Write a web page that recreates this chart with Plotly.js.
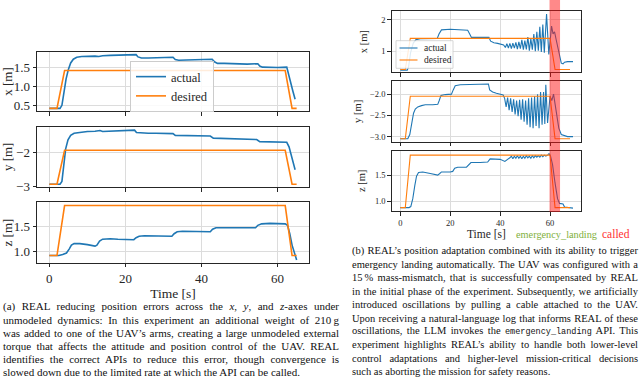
<!DOCTYPE html>
<html><head><meta charset="utf-8">
<script src="https://cdn.plot.ly/plotly-3.0.1.min.js"></script>
<style>html,body{margin:0;padding:0;background:#fff;}#chart{width:640px;height:382px;}</style>
</head><body><div id="chart"></div>
<script>
// ---------- data: left figure (a) ----------
const aXActT = [0, 2.8, 3.3, 3.8, 4.4, 5.0, 5.6, 6.3, 7.2, 8.5, 10, 12, 13, 14, 16, 18, 20, 22, 22.8, 23.3, 24.2, 26, 28, 30, 32.5, 33.1, 34, 36, 38, 40, 42.8, 43.4, 44.2, 46, 48, 50, 52, 54.8, 55.3, 56, 58, 60, 62.4, 63.0, 63.5, 64.0, 64.6];
const aXActV = [0.42, 0.42, 0.50, 0.85, 1.20, 1.45, 1.62, 1.72, 1.77, 1.79, 1.80, 1.80, 1.79, 1.81, 1.82, 1.82, 1.83, 1.84, 1.84, 1.78, 1.75, 1.75, 1.76, 1.77, 1.77, 1.71, 1.69, 1.70, 1.71, 1.71, 1.72, 1.65, 1.61, 1.61, 1.60, 1.60, 1.59, 1.60, 1.54, 1.51, 1.50, 1.50, 1.51, 1.30, 1.10, 0.88, 0.66];
const aXDesT = [0, 2, 4, 62, 63.8, 65];
const aXDesV = [0.42, 0.42, 1.42, 1.42, 0.42, 0.42];

const aYActT = [0, 2.8, 3.3, 3.8, 4.3, 4.9, 5.6, 6.5, 8, 10, 12, 13.3, 14, 16, 18, 20, 22.4, 22.9, 24, 26, 28, 30, 32.5, 33.1, 35, 38, 40, 42.3, 43.1, 45, 48, 50, 52, 54.5, 55.3, 57, 60, 62.4, 63.0, 63.5, 64.0, 64.6];
const aYActV = [-2.93, -2.93, -2.85, -2.40, -1.90, -1.65, -1.52, -1.46, -1.43, -1.41, -1.40, -1.38, -1.41, -1.40, -1.39, -1.37, -1.37, -1.44, -1.45, -1.46, -1.46, -1.47, -1.47, -1.52, -1.52, -1.53, -1.53, -1.54, -1.60, -1.61, -1.62, -1.62, -1.63, -1.64, -1.70, -1.70, -1.71, -1.72, -1.85, -2.05, -2.28, -2.51];
const aYDesT = [0, 2, 4, 62, 63.8, 65];
const aYDesV = [-2.93, -2.93, -1.95, -1.95, -2.93, -2.93];

const aZActT = [0, 2.5, 3.5, 4.5, 5.2, 5.8, 6.5, 8, 10, 12, 12.5, 13.2, 14, 16, 18, 20, 22.2, 22.8, 23.6, 25, 28, 30, 32.2, 32.8, 33.6, 35, 38, 40, 42.3, 42.9, 43.8, 46, 50, 54.2, 54.8, 55.8, 58, 60, 62, 62.6, 63.2, 63.8, 64.4, 65];
const aZActV = [0.91, 0.91, 0.93, 0.96, 1.04, 1.12, 1.15, 1.15, 1.13, 1.10, 1.12, 1.20, 1.24, 1.25, 1.24, 1.24, 1.23, 1.27, 1.30, 1.31, 1.31, 1.30, 1.30, 1.35, 1.39, 1.40, 1.39, 1.39, 1.39, 1.44, 1.47, 1.47, 1.47, 1.47, 1.52, 1.55, 1.56, 1.56, 1.55, 1.52, 1.35, 1.12, 0.95, 0.82];
const aZDesT = [0, 2, 4, 62, 63.8, 65];
const aZDesV = [0.91, 0.91, 1.92, 1.92, 0.91, 0.91];

// ---------- data: right figure (b) ----------
const bXActT = [0, 2.8, 3.3, 4.1, 5.2, 6.3, 8, 12, 14.8, 15.5, 16.5, 20, 24, 27, 27.8, 28.5, 32, 35.5, 36.2, 37.5, 39, 40.2, 41.4, 42.1, 42.7, 43.3, 43.9, 44.5, 45.1, 45.7, 46.3, 46.9, 47.5, 48.1, 48.7, 49.3, 49.9, 50.5, 51.1, 51.7, 52.3, 52.9, 53.5, 54.1, 54.7, 55.3, 55.9, 56.5, 57.1, 57.7, 58.6, 59.5, 60.6, 61.2, 61.8, 62.5, 63.5, 64.5, 65.2, 65.8, 67, 69.2];
const bXActV = [0.40, 0.40, 0.50, 0.95, 1.26, 1.37, 1.40, 1.40, 1.41, 1.55, 1.68, 1.70, 1.68, 1.67, 1.55, 1.44, 1.44, 1.44, 1.32, 1.27, 1.25, 1.22, 1.20, 1.12, 1.24, 1.10, 1.25, 1.08, 1.26, 1.10, 1.28, 1.07, 1.30, 1.08, 1.36, 1.05, 1.34, 1.06, 1.45, 1.02, 1.40, 1.05, 1.55, 1.00, 1.62, 1.02, 1.78, 0.98, 1.85, 0.95, 2.18, 0.90, 1.80, 1.55, 1.62, 1.35, 0.95, 0.62, 0.60, 0.65, 0.67, 0.67];
const bXDesT = [0, 2, 4, 60, 62, 68];
const bXDesV = [0.42, 0.42, 1.41, 1.41, 0.42, 0.42];

const bYActT = [0, 3.0, 3.8, 4.5, 5.3, 6.0, 7.0, 8.5, 10, 13, 15, 15.6, 16.3, 18, 20.5, 21.2, 22, 24, 27, 30, 33, 35.3, 35.8, 37, 38.5, 40.5, 41.2, 41.8, 42.4, 43.0, 43.6, 44.2, 44.8, 45.4, 46.0, 46.6, 47.2, 47.8, 48.4, 49.0, 49.6, 50.2, 50.8, 51.4, 52.0, 52.6, 53.2, 53.8, 54.4, 55.0, 55.6, 56.2, 56.8, 57.4, 57.9, 58.3, 59.0, 60.0, 60.7, 61.4, 62.3, 63.5, 64.5, 65.5, 67, 69.2];
const bYActV = [-3.05, -3.05, -2.95, -2.70, -2.45, -2.35, -2.30, -2.27, -2.25, -2.25, -2.24, -2.15, -2.03, -2.01, -2.00, -1.90, -1.80, -1.78, -1.77, -1.76, -1.75, -1.76, -1.90, -1.95, -1.98, -2.02, -2.02, -2.10, -2.30, -2.08, -2.38, -2.10, -2.42, -2.12, -2.48, -2.15, -2.52, -2.13, -2.60, -2.12, -2.65, -2.15, -2.72, -2.10, -2.78, -2.08, -2.80, -2.05, -2.75, -2.00, -2.80, -1.95, -2.72, -1.95, -2.70, -1.78, -2.68, -2.05, -2.15, -2.00, -2.30, -2.80, -2.95, -2.97, -3.00, -3.00];
const bYDesT = [0, 2, 4, 60, 62, 68];
const bYDesV = [-3.05, -3.05, -2.05, -2.05, -3.05, -3.05];

const bZActT = [0, 3.5, 4.2, 5.0, 5.8, 6.5, 7.3, 9, 12, 15, 15.8, 16.5, 20, 21, 21.8, 23, 26.5, 27.3, 28.3, 32, 35, 36, 40, 41.9, 43.2, 43.9, 44.5, 45.1, 45.7, 46.3, 46.9, 47.5, 48.1, 48.7, 49.3, 49.9, 50.5, 51.1, 51.7, 52.3, 52.9, 53.5, 54.1, 54.7, 55.3, 55.9, 56.5, 57.1, 57.7, 58.3, 59.0, 59.6, 60.2, 61.0, 62.0, 63.0, 63.8, 64.5, 65.2, 65.8, 67, 69.2];
const bZActV = [0.88, 0.88, 0.90, 1.05, 1.30, 1.48, 1.55, 1.56, 1.53, 1.50, 1.53, 1.56, 1.56, 1.57, 1.63, 1.65, 1.65, 1.70, 1.74, 1.74, 1.75, 1.81, 1.80, 1.76, 1.80, 1.83, 1.86, 1.81, 1.86, 1.82, 1.87, 1.82, 1.86, 1.81, 1.86, 1.82, 1.87, 1.83, 1.86, 1.82, 1.87, 1.83, 1.87, 1.84, 1.87, 1.84, 1.88, 1.85, 1.88, 1.86, 1.88, 1.91, 1.86, 1.70, 1.35, 1.05, 0.96, 0.95, 0.95, 0.89, 0.88, 0.87];
const bZDesT = [0, 2, 4, 60, 62, 68];
const bZDesV = [0.88, 0.88, 1.88, 1.88, 0.88, 0.88];

const emergencyWindow = [59.8, 64.0];
const timeTicks = [0, 20, 40, 60];
const seriesNames = ['actual', 'desired'];

const captionA = [
  '(a) REAL reducing position errors across the <i>x</i>, <i>y</i>, and <i>z</i>-axes under',
  'unmodeled dynamics: In this experiment an additional weight of 210\u2009g',
  'was added to one of the UAV\u2019s arms, creating a large unmodeled external',
  'torque that affects the attitude and position control of the UAV. REAL',
  'identifies the correct APIs to reduce this error, though convergence is',
  'slowed down due to the limited rate at which the API can be called.'
];
const captionB = [
  '(b) REAL\u2019s position adaptation combined with its ability to trigger',
  'emergency landing automatically. The UAV was configured with a',
  '15\u2009% mass-mismatch, that is successfully compensated by REAL',
  'in the initial phase of the experiment. Subsequently, we artificially',
  'introduced oscillations by pulling a cable attached to the UAV.',
  'Upon receiving a natural-language log that informs REAL of these',
  'oscillations, the LLM invokes the <span style="font-family:\'Liberation Mono\',monospace;font-size:8.5px">emergency_landing</span> API. This',
  'experiment highlights REAL\u2019s ability to handle both lower-level',
  'control adaptations and higher-level mission-critical decisions',
  'such as aborting the mission for safety reasons.'
];

// ---------- styling ----------
const F = 'Liberation Serif, Times New Roman, serif';
const BLUE = '#1f77b4', ORANGE = '#ff7f0e', INK = '#262626';
const W = 640, H = 382;
const px = v => v / W, py = v => 1 - v / H;

function ax(o, fs) {
  return Object.assign({
    showline: true, mirror: true, linecolor: INK, linewidth: 1,
    ticks: 'outside', ticklen: 3.5, tickwidth: 1, tickcolor: INK,
    showgrid: true, gridcolor: '#dcdcdc', gridwidth: 1, zeroline: false,
    tickfont: {family: F, size: fs, color: INK}, automargin: false
  }, o);
}

function pair(tA, vA, tD, vD, xa, ya, lw, show) {
  return [
    {x: tA, y: vA, type: 'scatter', mode: 'lines', name: seriesNames[0], xaxis: xa, yaxis: ya,
     line: {color: BLUE, width: lw}, showlegend: show},
    {x: tD, y: vD, type: 'scatter', mode: 'lines', name: seriesNames[1], xaxis: xa, yaxis: ya,
     line: {color: ORANGE, width: lw}, showlegend: show}
  ];
}

const data = [].concat(
  pair(aXActT, aXActV, aXDesT, aXDesV, 'x', 'y', 1.6, true),
  pair(aYActT, aYActV, aYDesT, aYDesV, 'x2', 'y2', 1.6, false),
  pair(aZActT, aZActV, aZDesT, aZDesV, 'x3', 'y3', 1.6, false),
  pair(bXActT, bXActV, bXDesT, bXDesV, 'x4', 'y4', 1.1, false),
  pair(bYActT, bYActV, bYDesT, bYDesV, 'x5', 'y5', 1.1, false),
  pair(bZActT, bZActV, bZDesT, bZDesV, 'x6', 'y6', 1.1, false)
);

const LX = [px(37), px(309)], RX = [px(391.7), px(581)];
const FA = 13, FB = 8.5;
const layout = {
  width: W, height: H, margin: {l: 0, r: 0, t: 0, b: 0},
  paper_bgcolor: '#fff', plot_bgcolor: '#fff', font: {family: F, color: INK},
  xaxis:  ax({domain: LX, anchor: 'y',  range: [-3.25, 68.25], tickvals: timeTicks, showticklabels: false}, FA),
  xaxis2: ax({domain: LX, anchor: 'y2', range: [-3.25, 68.25], tickvals: timeTicks, showticklabels: false}, FA),
  xaxis3: ax({domain: LX, anchor: 'y3', range: [-3.25, 68.25], tickvals: timeTicks,
              title: {text: 'Time [s]', font: {family: F, size: 13.5, color: INK}, standoff: 0}}, FA),
  yaxis:  ax({domain: [py(111), py(52)], anchor: 'x', range: [0.35, 1.91], tickvals: [0.5, 1.0, 1.5], tickformat: '.1f',
              title: {text: 'x [m]', font: {family: F, size: 13, color: INK}, standoff: 6}}, FA),
  yaxis2: ax({domain: [py(187), py(126.7)], anchor: 'x2', range: [-3.01, -1.27], tickvals: [-3, -2],
              title: {text: 'y [m]', font: {family: F, size: 13, color: INK}, standoff: 6}}, FA),
  yaxis3: ax({domain: [py(262.7), py(202.3)], anchor: 'x3', range: [0.765, 1.985], tickvals: [1.0, 1.5], tickformat: '.1f',
              title: {text: 'z [m]', font: {family: F, size: 13, color: INK}, standoff: 6}}, FA),

  xaxis4: ax({domain: RX, anchor: 'y4', range: [-3.45, 72.4], tickvals: timeTicks, showticklabels: false}, FB),
  xaxis5: ax({domain: RX, anchor: 'y5', range: [-3.45, 72.4], tickvals: timeTicks, showticklabels: false}, FB),
  xaxis6: ax({domain: RX, anchor: 'y6', range: [-3.45, 72.4], tickvals: timeTicks,
              title: {text: 'Time [s]', font: {family: F, size: 11.5, color: INK}, standoff: 0}}, FB),
  yaxis4: ax({domain: [py(72.3), py(11)], anchor: 'x4', range: [0.33, 2.28], tickvals: [1, 2],
              title: {text: 'x [m]', font: {family: F, size: 10.5, color: INK}, standoff: 11}}, FB),
  yaxis5: ax({domain: [py(141.7), py(81)], anchor: 'x5', range: [-3.12, -1.69], tickvals: [-3.0, -2.5, -2.0], tickformat: '.1f',
              title: {text: 'y [m]', font: {family: F, size: 10.5, color: INK}, standoff: 6}}, FB),
  yaxis6: ax({domain: [py(211), py(150.7)], anchor: 'x6', range: [0.815, 1.965], tickvals: [1.0, 1.5], tickformat: '.1f',
              title: {text: 'z [m]', font: {family: F, size: 10.5, color: INK}, standoff: 7}}, FB),

  showlegend: true,
  legend: {x: px(130), y: py(61), xanchor: 'left', yanchor: 'top', bgcolor: 'rgba(255,255,255,0.85)',
           bordercolor: '#cccccc', borderwidth: 1, font: {family: F, size: 12.5, color: INK}, tracegroupgap: 0},

  shapes: [
    {type: 'rect', xref: 'x6', yref: 'paper', x0: emergencyWindow[0], x1: emergencyWindow[1],
     y0: py(212), y1: 1, fillcolor: 'rgba(255,20,20,0.5)', line: {width: 0}, layer: 'above'},
    // legend of panel (b): frame and line samples
    {type: 'rect', xref: 'paper', yref: 'paper', x0: px(396), x1: px(453), y0: py(68.3), y1: py(40.7),
     fillcolor: 'rgba(255,255,255,0.85)', line: {color: '#cccccc', width: 0.8}, layer: 'above'},
    {type: 'line', xref: 'paper', yref: 'paper', x0: px(399.5), x1: px(417.5), y0: py(48), y1: py(48),
     line: {color: BLUE, width: 1.1}, layer: 'above'},
    {type: 'line', xref: 'paper', yref: 'paper', x0: px(399.5), x1: px(417.5), y0: py(60), y1: py(60),
     line: {color: ORANGE, width: 1.1}, layer: 'above'}
  ],
  annotations: [
    {xref: 'paper', yref: 'paper', x: px(422), y: py(48), xanchor: 'left', yanchor: 'middle',
     text: seriesNames[0], showarrow: false, font: {family: F, size: 9.5, color: INK}},
    {xref: 'paper', yref: 'paper', x: px(422), y: py(60), xanchor: 'left', yanchor: 'middle',
     text: seriesNames[1], showarrow: false, font: {family: F, size: 9.5, color: INK}},
    {xref: 'paper', yref: 'paper', x: px(514), y: py(234), xanchor: 'left', yanchor: 'middle',
     text: 'emergency_landing', showarrow: false, font: {family: F, size: 10.3, color: '#7fb03c'}},
    {xref: 'paper', yref: 'paper', x: px(632), y: py(234), xanchor: 'right', yanchor: 'middle',
     text: 'called', showarrow: false, font: {family: F, size: 11.5, color: '#ff3030'}}
  ]
};

const justify = [];
captionA.forEach((s, i) => {
  justify.push({idx: layout.annotations.length, width: 336, last: i === captionA.length - 1});
  layout.annotations.push({
    xref: 'paper', yref: 'paper', x: px(1), y: py(306.5 + i * 13.0), xanchor: 'left', yanchor: 'middle', align: 'left',
    text: s, showarrow: false, font: {family: F, size: 11, color: '#111'}
  });
});
captionB.forEach((s, i) => {
  justify.push({idx: layout.annotations.length, width: 286, last: i === captionB.length - 1});
  layout.annotations.push({
    xref: 'paper', yref: 'paper', x: px(350), y: py(251 + i * 13.4), xanchor: 'left', yanchor: 'middle', align: 'left',
    text: s, showarrow: false, font: {family: F, size: 10.5, color: '#111'}
  });
});

Plotly.newPlot('chart', data, layout, {displayModeBar: false, staticPlot: true}).then(gd => {
  // full justification of caption lines, as in the typeset original
  justify.forEach(j => {
    if (j.last) return;
    const g = gd.querySelector('.annotation[data-index="' + j.idx + '"]');
    const t = g && g.querySelector('text.annotation-text');
    if (!t) return;
    const len = t.getComputedTextLength();
    const n = (t.textContent.match(/ /g) || []).length;
    if (n && len < j.width) t.style.wordSpacing = ((j.width - len) / n).toFixed(2) + 'px';
  });
});
</script></body></html>
